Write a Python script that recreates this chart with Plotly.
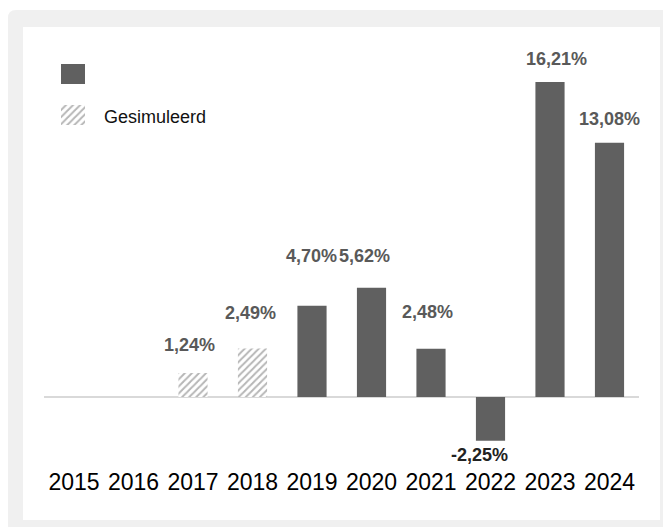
import plotly.graph_objects as go

# ---- data ----
years = ["2015", "2016", "2017", "2018", "2019", "2020", "2021", "2022", "2023", "2024"]
simulated_years = ["2017", "2018"]
simulated_values = [1.24, 2.49]
actual_years = ["2019", "2020", "2021", "2022", "2023", "2024"]
actual_values = [4.70, 5.62, 2.48, -2.25, 16.21, 13.08]
legend_names = ["", "Gesimuleerd"]

# label placement tweaks (pixels) in order 2017..2024
label_yshift = [28, 36, 50, 32, 37, -14, 23, 24]
label_xshift = [-4, -2, -1, -7, -4, -11, 6, 0]

W, H = 671, 527
PAGE_OFF = 8  # body margin of the html page
FONT = "Liberation Sans, Arial, sans-serif"
BAR = "#606060"
LABEL = "#595959"
PATTERN = dict(shape="/", fgcolor="#6e6e6e", bgcolor="white", size=5, solidity=0.4)


def fx(px):
    return (px - PAGE_OFF) / W


def fy(py):
    return 1 - (py - PAGE_OFF) / H


fig = go.Figure()

fig.add_trace(go.Bar(
    x=actual_years, y=actual_values, name=legend_names[0],
    marker=dict(color=BAR, line=dict(width=0)), showlegend=False,
    xaxis="x", yaxis="y", cliponaxis=False,
))
fig.add_trace(go.Bar(
    x=simulated_years, y=simulated_values, name=legend_names[1],
    marker=dict(color="white", pattern=PATTERN, line=dict(width=0)), showlegend=False,
    xaxis="x", yaxis="y", cliponaxis=False,
))

# legend swatches (drawn as tiny bars on their own axes)
fig.add_trace(go.Bar(
    y=["a"], x=[1], orientation="h", marker=dict(color=BAR, line=dict(width=0)),
    xaxis="x2", yaxis="y2", showlegend=False, hoverinfo="skip",
))
fig.add_trace(go.Bar(
    y=["b"], x=[1], orientation="h",
    marker=dict(color="white", pattern=PATTERN, line=dict(width=0)),
    xaxis="x2", yaxis="y2", showlegend=False, hoverinfo="skip",
))

# data labels
all_years = simulated_years + actual_years
all_values = simulated_values + actual_values
annotations = []
for i, (yr, v) in enumerate(zip(all_years, all_values)):
    txt = f"{v:.2f}".replace(".", ",") + "%"
    annotations.append(dict(
        x=years.index(yr), y=v, xref="x", yref="y", text=f"<b>{txt}</b>", showarrow=False,
        xanchor="center", yanchor="middle",
        xshift=label_xshift[i], yshift=label_yshift[i],
        font=dict(family=FONT, size=18, color=LABEL if v >= 0 else "#222222"),
    ))

annotations.append(dict(
    x=fx(102), y=fy(117), xref="paper", yref="paper", text=legend_names[1],
    showarrow=False, xanchor="left", yanchor="middle",
    font=dict(family=FONT, size=18, color="#111111"),
))

# background frame
r = 8
x0, y0, x1, y1 = fx(8), fy(10), fx(W + 20), fy(H + 20)
outer_path = (
    f"M {x0},{fy(10 + r)} Q {x0},{y0} {fx(8 + r)},{y0} L {x1},{y0} "
    f"L {x1},{y1} L {x0},{y1} Z"
)
shapes = [
    dict(type="path", xref="paper", yref="paper", path=outer_path,
         fillcolor="#f0f0f0", line=dict(width=0), layer="below"),
    dict(type="rect", xref="paper", yref="paper", x0=fx(23), x1=fx(660),
         y0=fy(520), y1=fy(27), fillcolor="white", line=dict(width=0), layer="below"),
]

zero_px = 397
px_per_unit = 19.43
top_px, bot_px = 40, 466
y_range = [(zero_px - bot_px) / px_per_unit, (zero_px - top_px) / px_per_unit]

fig.update_layout(
    width=W, height=H,
    margin=dict(l=0, r=0, t=0, b=0),
    paper_bgcolor="white", plot_bgcolor="rgba(0,0,0,0)",
    barmode="overlay", bargap=0.51,
    showlegend=False,
    font=dict(family=FONT, color="#000000"),
    xaxis=dict(
        domain=[fx(44.25), fx(639.25)], type="category",
        categoryorder="array", categoryarray=years,
        range=[-0.5, len(years) - 0.5], autorange=False, tickangle=0,
        showgrid=False, showline=False, ticks="", zeroline=False,
        tickfont=dict(family=FONT, size=23, color="#000000"),
        automargin=False, anchor="y",
    ),
    yaxis=dict(
        domain=[fy(bot_px), fy(top_px)], range=y_range, autorange=False,
        showgrid=False, showticklabels=False, ticks="", showline=False,
        zeroline=True, zerolinecolor="#d9d9d9", zerolinewidth=2,
        automargin=False, anchor="x",
    ),
    xaxis2=dict(
        domain=[fx(61), fx(85)], range=[0, 1], visible=False, anchor="y2",
        fixedrange=True,
    ),
    yaxis2=dict(
        domain=[fy(135.5), fy(53.5)], type="category",
        categoryorder="array", categoryarray=["b", "a"], visible=False,
        range=[-0.5, 1.5], anchor="x2", fixedrange=True,
    ),
    annotations=annotations,
    shapes=shapes,
)

fig.write_html("out.html")
